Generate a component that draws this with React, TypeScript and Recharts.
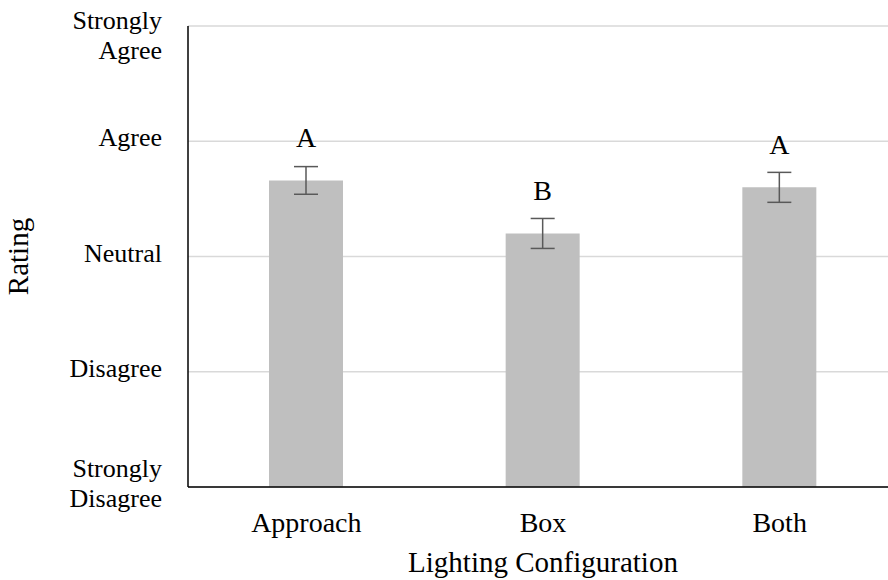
import { Bar, BarChart, CartesianGrid, ErrorBar, LabelList, XAxis, YAxis } from "recharts";

const categories = ["Approach", "Box", "Both"];
const meanRatings = [3.66, 3.2, 3.6];
const ratingErrors = [0.12, 0.13, 0.13];
const groupLetters = ["A", "B", "A"];

const ratingTicks = [1, 2, 3, 4, 5];
const ratingLabels = [
    ["Strongly", "Disagree"],
    ["Disagree"],
    ["Neutral"],
    ["Agree"],
    ["Strongly", "Agree"],
];

const data = categories.map((name, i) => ({
    name,
    rating: meanRatings[i],
    err: ratingErrors[i],
    letter: groupLetters[i],
}));

const FONT = "Liberation Serif";

function RatingTick(props: any) {
    const { x, y, payload } = props;
    const idx = ratingTicks.indexOf(payload.value);
    const lines = ratingLabels[idx] || [String(payload.value)];
    const lh = 30;
    let first = y + 5 - ((lines.length - 1) * lh) / 2;
    if (first < 29) first = 29;
    return (
        <text x={x - 18} y={first} textAnchor="end" fontFamily={FONT} fontSize={26} fill="#000">
            {lines.map((l, i) => (
                <tspan key={i} x={x - 18} y={first + i * lh} fontFamily={FONT}>
                    {l}
                </tspan>
            ))}
        </text>
    );
}

function CategoryTick(props: any) {
    const { x, y, payload } = props;
    return (
        <text x={x} y={y + 37} textAnchor="middle" fontFamily={FONT} fontSize={28} fill="#000">
            {payload.value}
        </text>
    );
}

function XTitle(props: any) {
    const { viewBox } = props;
    return (
        <text
            x={viewBox.x + viewBox.width / 2}
            y={viewBox.y + 85}
            textAnchor="middle"
            fontFamily={FONT}
            fontSize={29}
            fill="#000"
        >
            Lighting Configuration
        </text>
    );
}

function YTitle(props: any) {
    const { viewBox } = props;
    const cy = viewBox.y + viewBox.height / 2;
    return (
        <text
            x={28}
            y={cy}
            textAnchor="middle"
            transform={`rotate(-90, 28, ${cy})`}
            fontFamily={FONT}
            fontSize={29}
            fill="#000"
        >
            Rating
        </text>
    );
}

function LetterLabel(props: any) {
    const { x, y, width, value } = props;
    return (
        <text x={x + width / 2} y={y - 33} textAnchor="middle" fontFamily={FONT} fontSize={28} fill="#000">
            {value}
        </text>
    );
}

export default function App() {
    return (
        <div style={{ position: "absolute", left: 0, top: 0, width: 888, height: 580, overflow: "hidden", background: "#fff" }}>
            <BarChart
                width={898}
                height={580}
                data={data}
                margin={{ top: 26, right: 0, bottom: 0, left: 0 }}
            >
                <CartesianGrid vertical={false} stroke="#d9d9d9" strokeWidth={1.5} />

                <XAxis
                    dataKey="name"
                    height={93}
                    axisLine={{ stroke: "#000", strokeWidth: 1.5 }}
                    tickLine={false}
                    tick={<CategoryTick />}
                    label={<XTitle />}
                />

                <YAxis
                    width={188}
                    domain={[1, 5]}
                    ticks={ratingTicks}
                    axisLine={{ stroke: "#000", strokeWidth: 1.5 }}
                    tickLine={false}
                    tick={<RatingTick />}
                    label={<YTitle />}
                />

                <Bar dataKey="rating" fill="#bfbfbf" barSize={74} isAnimationActive={false}>
                    <ErrorBar
                        dataKey="err"
                        width={12}
                        stroke="#595959"
                        strokeWidth={1.5}
                        direction="y"
                        isAnimationActive={false}
                    />
                    <LabelList dataKey="letter" content={<LetterLabel />} />
                </Bar>
            </BarChart>
        </div>
    );
}
